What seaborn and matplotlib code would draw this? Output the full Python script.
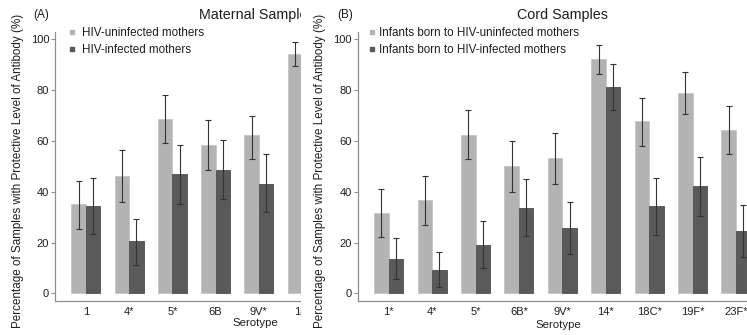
import numpy as np
import pandas as pd
import matplotlib
matplotlib.use("Agg")
import matplotlib.pyplot as plt
from matplotlib.lines import Line2D
from matplotlib.patches import Rectangle
import seaborn as sns

# ---------------- data ----------------
serotypes_a = ["1", "4*", "5*", "6B", "9V*", "14*"]
groups_a = ["HIV-uninfected mothers", "HIV-infected mothers"]
a_uninf = [35.0, 46.0, 68.6, 58.3, 62.4, 94.1]
a_uninf_lo = [25.2, 35.8, 59.0, 48.4, 52.7, 89.3]
a_uninf_hi = [44.3, 56.3, 77.9, 68.2, 69.9, 98.7]
a_inf = [34.4, 20.5, 46.8, 48.7, 43.2, np.nan]      # last bar hidden (cropped)
a_inf_lo = [23.2, 11.1, 35.0, 37.0, 31.9, np.nan]
a_inf_hi = [45.3, 29.4, 58.5, 60.4, 54.7, np.nan]

serotypes_b = ["1*", "4*", "5*", "6B*", "9V*", "14*", "18C*", "19F*", "23F*"]
groups_b = ["Infants born to HIV-uninfected mothers", "Infants born to HIV-infected mothers"]
b_uninf = [31.6, 36.8, 62.4, 50.1, 53.1, 92.0, 67.7, 79.0, 64.4]
b_uninf_lo = [22.3, 26.9, 52.7, 39.8, 42.9, 86.4, 58.1, 70.4, 54.7]
b_uninf_hi = [40.9, 46.2, 72.1, 60.0, 63.1, 97.8, 76.9, 87.0, 73.8]
b_inf = [13.4, 9.2, 18.9, 33.7, 25.6, 81.3, 34.2, 42.1, 24.7]
b_inf_lo = [5.6, 2.4, 9.9, 22.6, 15.3, 72.1, 23.0, 30.4, 14.2]
b_inf_hi = [21.6, 16.1, 28.4, 45.0, 35.8, 90.4, 45.2, 53.5, 34.9]

yticks = [0, 20, 40, 60, 80, 100]
ylabel = "Percentage of Samples with Protective Level of Antibody (%)"

LIGHT = "#b3b3b3"
DARK = "#5a5a5a"
TXT = "#1e1e1e"
SPINE = "#8f8f8f"

sns.set_style("white")
plt.rcParams["font.family"] = ["Liberation Sans", "DejaVu Sans"]

W, H = 747, 335
fig = plt.figure(figsize=(W / 100, H / 100), dpi=100)

def px(x, y_top):
    return x / W, 1 - y_top / H

BAR_W = 0.67
def make_df(cats, groups, v1, v2):
    rows = []
    for c, a, b in zip(cats, v1, v2):
        if not np.isnan(a):
            rows.append((c, groups[0], a))
        if not np.isnan(b):
            rows.append((c, groups[1], b))
    return pd.DataFrame(rows, columns=["serotype", "group", "pct"])

def panel(ax, cats, groups, v1, lo1, hi1, v2, lo2, hi2, xlim):
    df = make_df(cats, groups, np.array(v1, float), np.array(v2, float))
    sns.barplot(data=df, x="serotype", y="pct", hue="group", order=cats,
                hue_order=groups, palette=[LIGHT, DARK], width=BAR_W,
                errorbar=None, legend=False, ax=ax, saturation=1)
    for p in ax.patches:
        fc = p.get_facecolor()
        p.set_linewidth(0.6)
        p.set_edgecolor("#c6c6c6" if fc[0] > 0.5 else "#4e4e4e")
    off = BAR_W / 4
    for vals, lo, hi, sgn in ((v1, lo1, hi1, -1), (v2, lo2, hi2, 1)):
        vals = np.array(vals, float); lo = np.array(lo, float); hi = np.array(hi, float)
        m = ~np.isnan(vals)
        xs = np.arange(len(cats))[m] + sgn * off
        ax.errorbar(xs, vals[m], yerr=[vals[m] - lo[m], hi[m] - vals[m]], fmt="none",
                    ecolor="#333333", elinewidth=0.8, capsize=1.9, capthick=0.8, zorder=5)
    ax.set_xlim(*xlim)
    ax.set_ylim(-3.0, 102.8)
    ax.set_yticks(yticks)
    ax.set_yticklabels([str(t) for t in yticks])
    for s in ("top", "right"):
        ax.spines[s].set_visible(False)
    for s in ("left", "bottom"):
        ax.spines[s].set_color(SPINE)
        ax.spines[s].set_linewidth(0.9)
    ax.tick_params(axis="y", direction="out", length=3, width=0.8, color=SPINE,
                   labelsize=8, labelcolor=TXT, pad=1.5, left=True)
    ax.tick_params(axis="x", length=0, labelsize=8, labelcolor=TXT, pad=4)
    ax.set_xlabel("Serotype", fontsize=8.2, color=TXT, labelpad=1)
    ax.set_ylabel(ylabel, fontsize=8.4, color=TXT)
    ax.yaxis.set_label_coords(-0.080, 0.485)
    ax.set_facecolor("none")

LEG_FS = 8.4

# panel A (cropped on the right by panel B)
ax_a = fig.add_axes([55.5 / W, 34 / H, 399.5 / W, 269 / H])
ax_a.set_zorder(0)
panel(ax_a, serotypes_a, groups_a, a_uninf, a_uninf_lo, a_uninf_hi,
      a_inf, a_inf_lo, a_inf_hi, (-0.70, 8.53))
ax_a.text(*px(33, 15), "(A)", transform=fig.transFigure, fontsize=8.5, color=TXT,
          ha="left", va="center")
ax_a.text(*px(257, 15), "Maternal Samples", transform=fig.transFigure, fontsize=10.3,
          color=TXT, ha="center", va="center")
h_a = [Line2D([], [], marker="s", ls="none", color=c, markersize=3.3) for c in (LIGHT, DARK)]
ax_a.legend(h_a, groups_a, loc="upper left", bbox_to_anchor=px(68.7, 27.5),
            bbox_transform=fig.transFigure, frameon=False, fontsize=LEG_FS,
            handlelength=0.6, handletextpad=0.5, borderpad=0, borderaxespad=0,
            labelspacing=0.38, labelcolor=TXT)

# white cover emulating the crop
cover = Rectangle((300.5 / W, 0), 1, 1, transform=fig.transFigure, facecolor="white",
                  edgecolor="none", zorder=1)
fig.add_artist(cover)

# panel B
ax_b = fig.add_axes([358.3 / W, 34 / H, 407.7 / W, 269 / H])
ax_b.set_zorder(2)
panel(ax_b, serotypes_b, groups_b, b_uninf, b_uninf_lo, b_uninf_hi,
      b_inf, b_inf_lo, b_inf_hi, (-0.70, 8.69))
ax_b.xaxis.set_label_coords(0.49, -0.07)
ax_b.text(*px(337, 15), "(B)", transform=fig.transFigure, fontsize=8.5, color=TXT,
          ha="left", va="center")
ax_b.text(*px(562, 15), "Cord Samples", transform=fig.transFigure, fontsize=10.3,
          color=TXT, ha="center", va="center")
h_b = [Line2D([], [], marker="s", ls="none", color=c, markersize=3.3) for c in (LIGHT, DARK)]
ax_b.legend(h_b, groups_b, loc="upper left", bbox_to_anchor=px(368, 27.5),
            bbox_transform=fig.transFigure, frameon=False, fontsize=LEG_FS,
            handlelength=0.6, handletextpad=0.35, borderpad=0, borderaxespad=0,
            labelspacing=0.38, labelcolor=TXT)

fig.savefig("out.png", dpi=100, facecolor="white")
